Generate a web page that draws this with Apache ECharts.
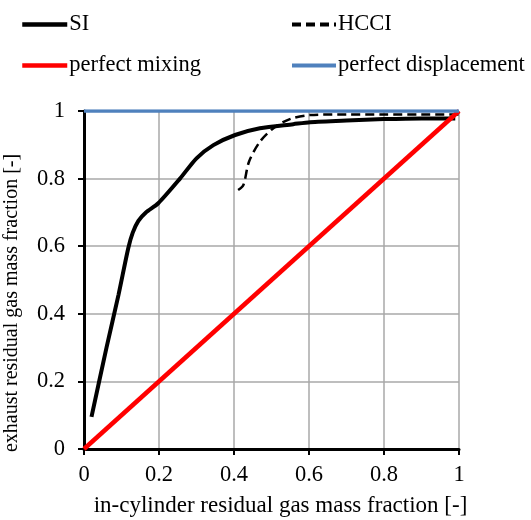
<!DOCTYPE html>
<html>
<head>
<meta charset="utf-8">
<script src="https://cdn.jsdelivr.net/npm/echarts@6/dist/echarts.min.js"></script>
<style>html,body{margin:0;padding:0;background:#fff}#c{width:531px;height:520px}</style>
</head>
<body>
<div id="c"></div>
<script>
var siX = [0.02, 0.06, 0.092, 0.118, 0.13, 0.145, 0.165, 0.198, 0.256, 0.30, 0.345, 0.403, 0.469, 0.558, 0.603, 0.70, 0.80, 0.90, 0.99];
var siY = [0.095, 0.30, 0.456, 0.594, 0.64, 0.675, 0.70, 0.727, 0.80, 0.86, 0.899, 0.929, 0.949, 0.961, 0.967, 0.972, 0.976, 0.978, 0.978];
var hcciX = [0.411, 0.425, 0.44, 0.469, 0.505, 0.549, 0.603, 0.70, 0.80, 0.90, 1.0];
var hcciY = [0.766, 0.781, 0.85, 0.909, 0.949, 0.976, 0.988, 0.99, 0.99, 0.99, 0.99];
var mixX = [0, 1];
var mixY = [0, 1];
var dispX = [0, 1];
var dispY = [1, 1];
var xTicks = [0, 0.2, 0.4, 0.6, 0.8, 1];
var yTicks = [0, 0.2, 0.4, 0.6, 0.8, 1];

function pairs(xs, ys) { return xs.map(function (x, i) { return [x, ys[i]]; }); }
var FONT = 'Liberation Serif';
var legendText = { fontFamily: FONT, fontSize: 22.5, color: '#000', lineHeight: 22, padding: [0, 0, 0, -3] };
var chart = echarts.init(document.getElementById('c'));
chart.setOption({
  animation: false,
  textStyle: { fontFamily: FONT },
  grid: { left: 84, right: 72, top: 111, bottom: 71, containLabel: false, outerBoundsMode: 'none' },
  legend: [
    { left: 15, top: 8, orient: 'vertical', itemWidth: 45, itemHeight: 4, itemGap: 18,
      data: ['SI', 'perfect mixing'], itemStyle: { opacity: 0 }, lineStyle: { width: 4.5 },
      textStyle: legendText },
    { left: 285, top: 8, orient: 'vertical', itemWidth: 44, itemHeight: 4, itemGap: 18,
      data: ['HCCI', 'perfect displacement'], itemStyle: { opacity: 0 }, lineStyle: { width: 4 },
      textStyle: legendText }
  ],
  xAxis: {
    type: 'value', min: xTicks[0], max: xTicks[xTicks.length - 1], interval: 0.2,
    name: 'in-cylinder residual gas mass fraction [-]', nameLocation: 'middle', nameGap: 45,
    nameTextStyle: { fontFamily: FONT, fontSize: 23, color: '#000', padding: [0, 0, 0, 18] },
    axisLine: { lineStyle: { color: '#000', width: 3 } },
    axisTick: { show: true, length: 6, lineStyle: { color: '#000', width: 2 } },
    axisLabel: { fontFamily: FONT, fontSize: 22.5, color: '#000', margin: 15 },
    splitLine: { show: true, lineStyle: { color: '#a8a8a8', width: 1.5 } }
  },
  yAxis: {
    type: 'value', min: yTicks[0], max: yTicks[yTicks.length - 1], interval: 0.2,
    name: 'exhaust residual gas mass fraction [-]', nameLocation: 'middle', nameGap: 62, nameRotate: 90,
    nameTextStyle: { fontFamily: FONT, fontSize: 20, color: '#000', padding: [0, 46, 0, 0] },
    axisLine: { show: true, lineStyle: { color: '#000', width: 3 } },
    axisTick: { show: true, length: 6, lineStyle: { color: '#000', width: 2 } },
    axisLabel: { fontFamily: FONT, fontSize: 22.5, color: '#000', margin: 19 },
    splitLine: { show: true, lineStyle: { color: '#a8a8a8', width: 1.5 } }
  },
  series: [
    { name: 'SI', type: 'line', data: pairs(siX, siY), symbol: 'none', smooth: 0.25,
      color: '#000', lineStyle: { color: '#000', width: 4 } },
    { name: 'HCCI', type: 'line', data: pairs(hcciX, hcciY), symbol: 'none', smooth: 0.3,
      color: '#000', lineStyle: { color: '#000', width: 2.5, type: [9, 5] } },
    { name: 'perfect mixing', type: 'line', data: pairs(mixX, mixY), symbol: 'none',
      color: '#ff0000', lineStyle: { color: '#ff0000', width: 4.5 } },
    { name: 'perfect displacement', type: 'line', data: pairs(dispX, dispY), symbol: 'none',
      color: '#4f81bd', lineStyle: { color: '#4f81bd', width: 3.5 } }
  ]
});
</script>
</body>
</html>
